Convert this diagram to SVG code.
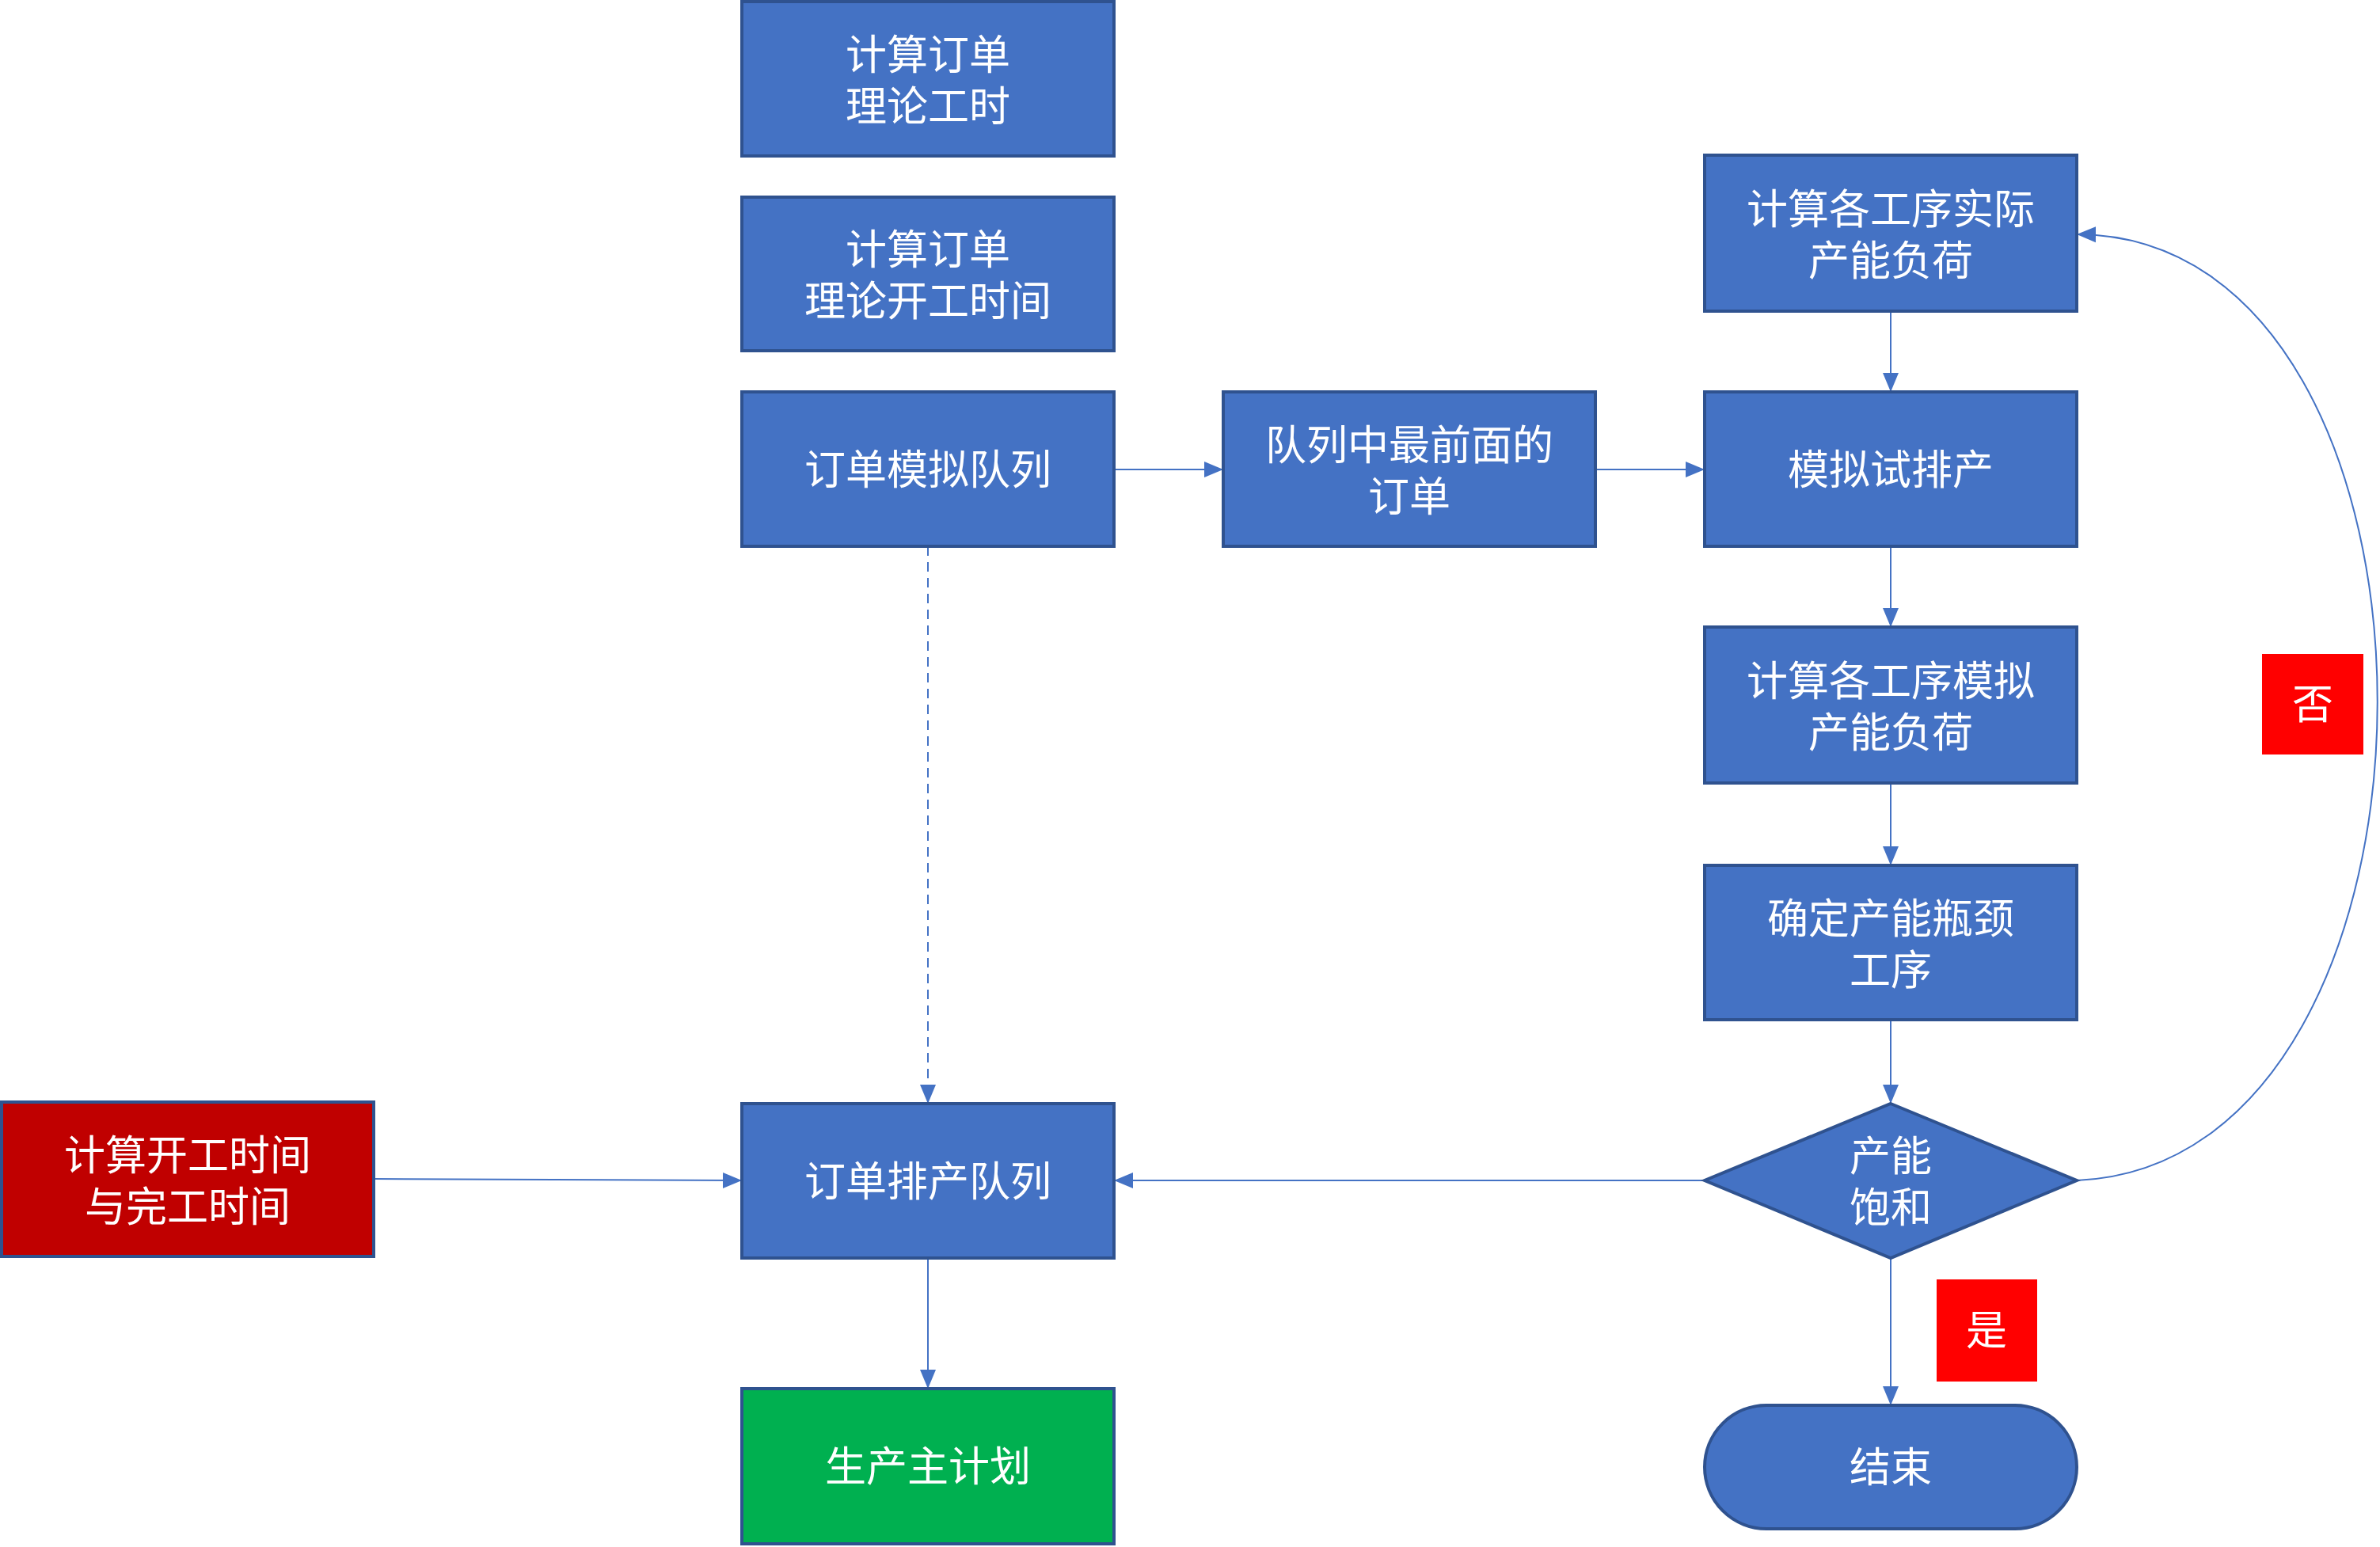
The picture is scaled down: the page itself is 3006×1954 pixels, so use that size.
<svg xmlns="http://www.w3.org/2000/svg" width="3006" height="1954" viewBox="0 0 3006 1954">
<defs>
<style>
.b{fill:#4472C4;stroke:#2F528F;stroke-width:4}
.t{fill:#fff;font-family:"Liberation Sans","Noto Sans CJK SC",sans-serif;font-size:52px;text-anchor:middle}
.c{fill:none;stroke:#4472C4;stroke-width:2}
</style>
<marker id="a" markerWidth="10" markerHeight="10" refX="9" refY="5" orient="auto" markerUnits="userSpaceOnUse" viewBox="0 0 10 10"><path d="M0,0 L10,5 L0,10 z" fill="#4472C4"/></marker>
<marker id="m" markerWidth="24" markerHeight="24" refX="22" refY="12" orient="auto" markerUnits="userSpaceOnUse" viewBox="0 0 24 24"><path d="M0,2 L24,12 L0,22 z" fill="#4472C4"/></marker>
</defs>
<rect width="3006" height="1954" fill="#fff"/>
<g id="connectors">
<path class="c" d="M1407,593 L1543,593" marker-end="url(#m)"/>
<path class="c" d="M2015,593 L2151,593" marker-end="url(#m)"/>
<path class="c" d="M2388,393 L2388,493" marker-end="url(#m)"/>
<path class="c" d="M2388,690 L2388,790" marker-end="url(#m)"/>
<path class="c" d="M2388,989 L2388,1091" marker-end="url(#m)"/>
<path class="c" d="M2388,1288 L2388,1392" marker-end="url(#m)"/>
<path class="c" d="M2388,1589 L2388,1773" marker-end="url(#m)"/>
<path class="c" d="M2153,1491 L1409,1491" marker-end="url(#m)"/>
<path class="c" d="M472,1489 L935,1491" marker-end="url(#m)"/>
<path class="c" d="M1172,1589 L1172,1752" marker-end="url(#m)"/>
<path class="c" d="M1172,690 L1172,1392" stroke-dasharray="12,8" marker-end="url(#m)"/>
<path class="c" d="M2623,1491 C3129,1470 3129,300 2625,296" marker-end="url(#m)"/>
</g>
<g id="n1"><rect class="b" x="937" y="2" width="470" height="195"/><text class="t" x="1172" y="88">计算订单</text><text class="t" x="1172" y="153">理论工时</text></g>
<g id="n2"><rect class="b" x="937" y="249" width="470" height="194"/><text class="t" x="1172" y="334">计算订单</text><text class="t" x="1172" y="399">理论开工时间</text></g>
<g id="n3"><rect class="b" x="937" y="495" width="470" height="195"/><text class="t" x="1172" y="612">订单模拟队列</text></g>
<g id="n4"><rect class="b" x="1545" y="495" width="470" height="195"/><text class="t" x="1780" y="581">队列中最前面的</text><text class="t" x="1780" y="646">订单</text></g>
<g id="n5"><rect class="b" x="2153" y="196" width="470" height="197"/><text class="t" x="2388" y="283">计算各工序实际</text><text class="t" x="2388" y="348">产能负荷</text></g>
<g id="n6"><rect class="b" x="2153" y="495" width="470" height="195"/><text class="t" x="2388" y="612">模拟试排产</text></g>
<g id="n7"><rect class="b" x="2153" y="792" width="470" height="197"/><text class="t" x="2388" y="879">计算各工序模拟</text><text class="t" x="2388" y="944">产能负荷</text></g>
<g id="n8"><rect class="b" x="2153" y="1093" width="470" height="195"/><text class="t" x="2388" y="1179">确定产能瓶颈</text><text class="t" x="2388" y="1244">工序</text></g>
<g id="n9"><path class="b" d="M2388,1394 L2623,1491 L2388,1589 L2153,1491 z"/><text class="t" x="2388" y="1479">产能</text><text class="t" x="2388" y="1544">饱和</text></g>
<g id="n10"><rect class="b" x="2153" y="1775" width="470" height="156" rx="78"/><text class="t" x="2388" y="1872">结束</text></g>
<g id="n11"><rect class="b" x="937" y="1394" width="470" height="195"/><text class="t" x="1172" y="1511">订单排产队列</text></g>
<g id="n12"><rect x="937" y="1754" width="470" height="196" fill="#00B050" stroke="#2F528F" stroke-width="4"/><text class="t" x="1172" y="1871">生产主计划</text></g>
<g id="n13"><rect x="2" y="1392" width="470" height="195" fill="#C00000" stroke="#2F528F" stroke-width="4"/><text class="t" x="237" y="1478">计算开工时间</text><text class="t" x="237" y="1543">与完工时间</text></g>
<g id="l1"><rect x="2857" y="826" width="128" height="127" fill="#FF0000"/><text class="t" x="2921" y="908">否</text></g>
<g id="l2"><rect x="2446" y="1616" width="127" height="129" fill="#FF0000"/><text class="t" x="2509" y="1699">是</text></g>
</svg>
